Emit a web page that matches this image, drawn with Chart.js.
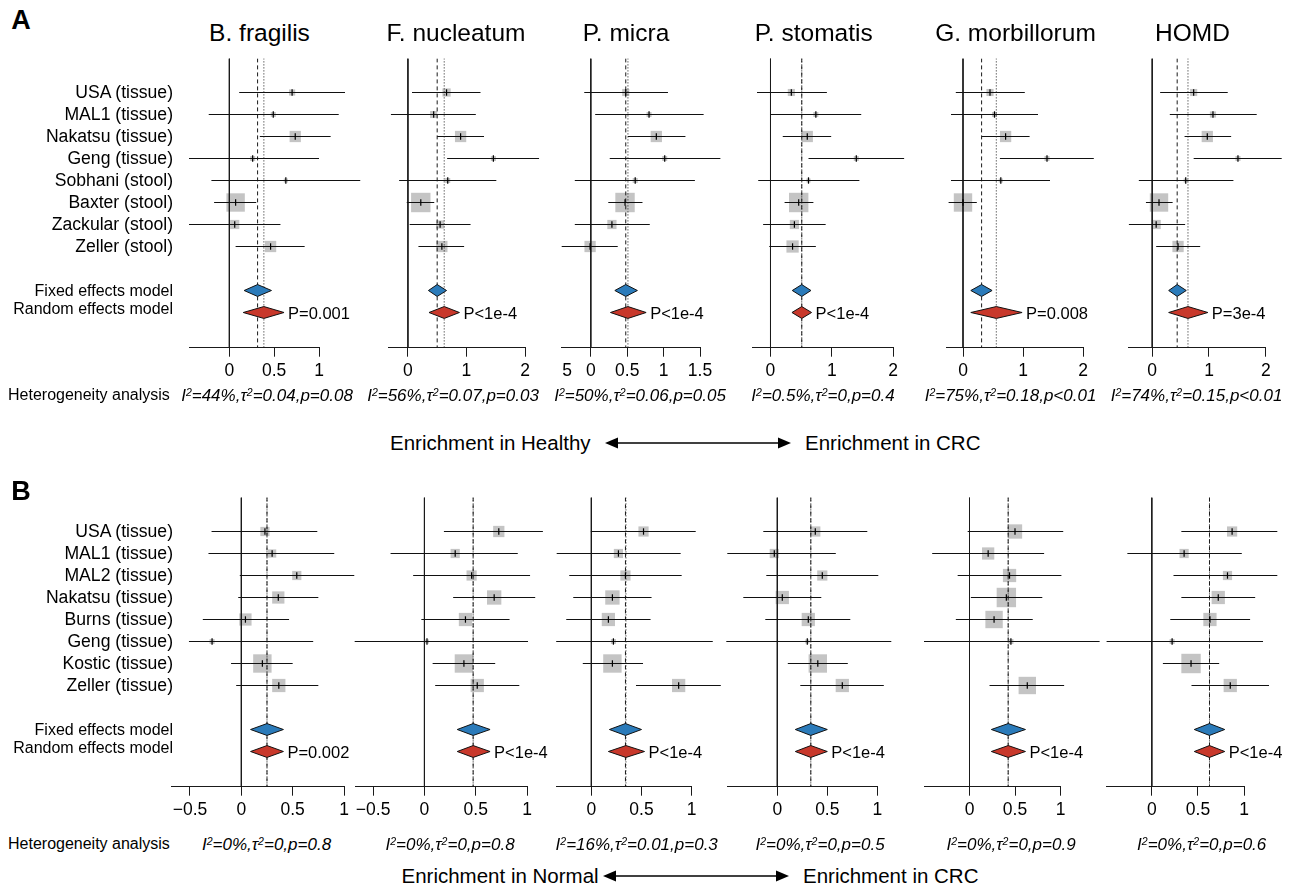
<!DOCTYPE html>
<html>
<head>
<meta charset="utf-8">
<title>Meta-analysis forest plots</title>
<script src="https://cdn.jsdelivr.net/npm/chart.js@4.4.0/dist/chart.umd.min.js"></script>
<style>
  html, body { margin: 0; padding: 0; background: #fff; }
  #page {
    position: relative; width: 1292px; height: 889px; overflow: hidden;
    font-family: "Liberation Sans", Arial, Helvetica, sans-serif; color: #000;
  }
  .t { position: absolute; white-space: nowrap; line-height: 1; }
  .t sup { font-size: 0.62em; vertical-align: baseline; position: relative; top: -0.5em; }
  canvas.panel { position: absolute; }
</style>
</head>
<body>
<div id="page"></div>
<script>
// -------------------------------------------------------------
// DATA
// -------------------------------------------------------------
const speciesTitles = ["B. fragilis", "F. nucleatum", "P. micra", "P. stomatis", "G. morbillorum", "HOMD"];

const studiesA = ["USA (tissue)", "MAL1 (tissue)", "Nakatsu (tissue)", "Geng (tissue)",
  "Sobhani (stool)", "Baxter (stool)", "Zackular (stool)", "Zeller (stool)"];
const studiesB = ["USA (tissue)", "MAL1 (tissue)", "MAL2 (tissue)", "Nakatsu (tissue)",
  "Burns (tissue)", "Geng (tissue)", "Kostic (tissue)", "Zeller (tissue)"];

// panel A — effect, CI lower, CI upper, study weight (%)
const a1Est = [0.70, 0.49, 0.735, 0.26, 0.63, 0.07, 0.06, 0.46];
const a1Lo  = [0.11, -0.23, 0.34, -0.45, -0.20, -0.17, -0.45, 0.07];
const a1Hi  = [1.29, 1.22, 1.13, 1.00, 1.46, 0.30, 0.57, 0.84];
const a1Wt  = [1.8, 1.2, 6.0, 1.2, 0.8, 16.0, 4.0, 6.0];

const a2Est = [0.66, 0.44, 0.90, 1.46, 0.68, 0.22, 0.55, 0.58];
const a2Lo  = [0.07, -0.29, 0.50, 0.67, -0.15, -0.02, 0.03, 0.18];
const a2Hi  = [1.24, 1.16, 1.30, 2.24, 1.51, 0.45, 1.07, 0.96];
const a2Wt  = [3.2, 2.4, 6.0, 1.2, 1.2, 17.8, 3.2, 6.0];

const a3Est = [0.48, 0.80, 0.90, 1.015, 0.61, 0.47, 0.29, -0.01];
const a3Lo  = [-0.09, 0.06, 0.51, 0.26, -0.22, 0.24, -0.22, -0.40];
const a3Hi  = [1.06, 1.55, 1.30, 1.78, 1.43, 0.71, 0.81, 0.37];
const a3Wt  = [2.4, 1.2, 6.0, 1.2, 1.2, 17.8, 4.0, 6.0];

const a4Est = [0.34, 0.74, 0.60, 1.40, 0.62, 0.46, 0.39, 0.36];
const a4Lo  = [-0.22, 0.00, 0.20, 0.62, -0.20, 0.23, -0.12, -0.02];
const a4Hi  = [0.92, 1.48, 0.99, 2.18, 1.45, 0.70, 0.90, 0.74];
const a4Wt  = [2.4, 1.2, 6.0, 1.2, 0.8, 17.8, 4.0, 7.1];

const a5Est = [0.45, 0.525, 0.71, 1.40, 0.63, 0.00, null, null];
const a5Lo  = [-0.12, -0.20, 0.315, 0.615, -0.20, -0.24, null, null];
const a5Hi  = [1.03, 1.25, 1.11, 2.18, 1.45, 0.23, null, null];
const a5Wt  = [2.4, 1.2, 6.0, 1.2, 0.8, 16.0, null, null];

const a6Est = [0.73, 1.07, 0.97, 1.51, 0.59, 0.12, 0.07, 0.455];
const a6Lo  = [0.14, 0.31, 0.57, 0.73, -0.235, -0.11, -0.41, 0.07];
const a6Hi  = [1.33, 1.84, 1.39, 2.28, 1.43, 0.36, 0.58, 0.845];
const a6Wt  = [2.4, 1.8, 6.0, 1.2, 0.8, 16.0, 4.0, 6.0];

// pooled estimates — [estimate, lower, upper]
const a1Fixed = [0.315, 0.165, 0.47];  const a1Random = [0.385, 0.155, 0.61];
const a2Fixed = [0.50, 0.35, 0.66];    const a2Random = [0.62, 0.36, 0.88];
const a3Fixed = [0.48, 0.33, 0.64];    const a3Random = [0.51, 0.27, 0.76];
const a4Fixed = [0.51, 0.355, 0.66];   const a4Random = [0.51, 0.35, 0.67];
const a5Fixed = [0.31, 0.13, 0.485];   const a5Random = [0.555, 0.13, 0.985];
const a6Fixed = [0.44, 0.29, 0.60];    const a6Random = [0.63, 0.29, 0.98];

// panel B
const b1Est = [0.23, 0.30, 0.54, 0.36, 0.04, -0.285, 0.205, 0.365];
const b1Lo  = [-0.29, -0.32, -0.015, -0.03, -0.375, -0.51, -0.10, -0.05];
const b1Hi  = [0.74, 0.905, 1.10, 0.75, 0.465, 0.70, 0.50, 0.75];
const b1Wt  = [4.0, 3.2, 4.0, 7.1, 7.1, 1.2, 16.0, 8.3];

const b2Est = [0.725, 0.30, 0.46, 0.68, 0.40, 0.025, 0.385, 0.515];
const b2Lo  = [0.19, -0.33, -0.11, 0.28, -0.03, -0.68, 0.08, 0.105];
const b2Hi  = [1.155, 0.91, 1.03, 1.08, 0.83, 1.01, 0.69, 0.925];
const b2Wt  = [6.0, 4.0, 4.9, 9.7, 8.3, 0.8, 16.0, 8.3];

const b3Est = [0.52, 0.27, 0.34, 0.21, 0.17, 0.22, 0.21, 0.87];
const b3Lo  = [-0.005, -0.345, -0.22, -0.18, -0.25, -0.35, -0.085, 0.445];
const b3Hi  = [1.04, 0.89, 0.90, 0.60, 0.59, 1.21, 0.515, 1.29];
const b3Wt  = [4.9, 4.0, 4.9, 9.7, 8.3, 1.2, 16.0, 8.3];

const b4Est = [0.38, -0.03, 0.45, 0.05, 0.31, 0.30, 0.405, 0.65];
const b4Lo  = [-0.14, -0.50, -0.11, -0.34, -0.12, -0.51, 0.105, 0.23];
const b4Hi  = [0.90, 0.585, 1.01, 0.44, 0.73, 1.14, 0.705, 1.065];
const b4Wt  = [4.9, 4.0, 4.9, 8.3, 8.3, 0.8, 16.0, 8.3];

const b5Est = [0.50, 0.205, 0.44, 0.405, 0.27, 0.455, null, 0.635];
const b5Lo  = [-0.02, -0.41, -0.13, 0.015, -0.15, -0.50, null, 0.22];
const b5Hi  = [1.03, 0.82, 1.01, 0.80, 0.695, 1.43, null, 1.04];
const b5Wt  = [9.7, 7.1, 8.3, 17.8, 14.3, 1.2, null, 14.3];

const b6Est = [0.87, 0.35, 0.82, 0.72, 0.63, 0.22, 0.425, 0.85];
const b6Lo  = [0.32, -0.265, 0.235, 0.32, 0.20, -0.49, 0.12, 0.43];
const b6Hi  = [1.36, 0.975, 1.36, 1.12, 1.065, 1.205, 0.73, 1.27];
const b6Wt  = [4.9, 4.0, 4.0, 8.3, 8.3, 1.2, 17.8, 8.3];

const b1Fixed = [0.25, 0.09, 0.41];    const b1Random = [0.25, 0.09, 0.41];
const b2Fixed = [0.475, 0.32, 0.64];   const b2Random = [0.475, 0.32, 0.64];
const b3Fixed = [0.34, 0.18, 0.50];    const b3Random = [0.345, 0.17, 0.53];
const b4Fixed = [0.335, 0.18, 0.50];   const b4Random = [0.335, 0.18, 0.50];
const b5Fixed = [0.425, 0.24, 0.615];  const b5Random = [0.425, 0.24, 0.615];
const b6Fixed = [0.625, 0.46, 0.79];   const b6Random = [0.625, 0.46, 0.79];

// tick labels, p-values, heterogeneity
const ticksA = [[0, 0.5, 1], [0, 1, 2], [0, 0.5, 1, 1.5], [0, 1, 2], [0, 1, 2], [0, 1, 2]];
const ticksB = [[-0.5, 0, 0.5, 1], [-0.5, 0, 0.5, 1], [0, 0.5, 1], [0, 0.5, 1], [0, 0.5, 1], [0, 0.5, 1]];

const pValuesA = ["P=0.001", "P<1e-4", "P<1e-4", "P<1e-4", "P=0.008", "P=3e-4"];
const pValuesB = ["P=0.002", "P<1e-4", "P<1e-4", "P<1e-4", "P<1e-4", "P<1e-4"];

const hetA = [
  ["44%", "0.04", "p=0.08"], ["56%", "0.07", "p=0.03"], ["50%", "0.06", "p=0.05"],
  ["0.5%", "0", "p=0.4"], ["75%", "0.18", "p<0.01"], ["74%", "0.15", "p<0.01"]
];
const hetB = [
  ["0%", "0", "p=0.8"], ["0%", "0", "p=0.8"], ["16%", "0.01", "p=0.3"],
  ["0%", "0", "p=0.5"], ["0%", "0", "p=0.9"], ["0%", "0", "p=0.6"]
];

// -------------------------------------------------------------
// LAYOUT (axis line extent in px and in data units)
// -------------------------------------------------------------
const frameA = [
  { px: [189, 319],      dom: [-0.45, 1] },
  { px: [388.3, 525],    dom: [-0.335, 2] },
  { px: [561.7, 700],    dom: [-0.40, 1.5] },
  { px: [752.1, 893.1],  dom: [-0.30, 2] },
  { px: [946.2, 1083],   dom: [-0.28, 2] },
  { px: [1128.9, 1265.8], dom: [-0.41, 2] }
];
const frameB = [
  { px: [171, 344],      dom: [-0.685, 1] },
  { px: [355.7, 527],    dom: [-0.67, 1] },
  { px: [556.7, 691.7],  dom: [-0.345, 1] },
  { px: [727.3, 877.3],  dom: [-0.5, 1] },
  { px: [924, 1060.5],   dom: [-0.5, 1] },
  { px: [1106.6, 1244.1], dom: [-0.49, 1] }
];
const titleX = [259.5, 456, 626, 813.7, 1015.5, 1192.5];
const hetXA = [267, 453, 640, 823, 1010.5, 1196.5];
const hetXB = [266.5, 450, 636.7, 820, 1011, 1201.7];

const ROW_PX = 22;
const Y_MIN = -0.55, Y_MAX = 12.6;
const FONT = `"Liberation Sans", Arial, Helvetica, sans-serif`;
const page = document.getElementById("page");

// -------------------------------------------------------------
// TEXT
// -------------------------------------------------------------
function text(html, x, y, { size = 16, align = "left", italic = false, bold = false } = {}) {
  const el = document.createElement("div");
  el.className = "t";
  el.innerHTML = html;
  const tx = align === "center" ? "-50%" : align === "right" ? "-100%" : "0";
  el.style.left = x + "px";
  el.style.top = y + "px";
  el.style.fontSize = size + "px";
  el.style.fontStyle = italic ? "italic" : "normal";
  el.style.fontWeight = bold ? "bold" : "normal";
  el.style.transform = `translate(${tx}, -50%)`;
  page.appendChild(el);
  return el;
}

function arrow(x0, x1, y) {
  const w = x1 - x0;
  const svg = `
    <svg width="${w}" height="14" style="position:absolute;left:${x0}px;top:${y - 7}px">
      <line x1="10" y1="7" x2="${w - 10}" y2="7" stroke="#000" stroke-width="1.5"/>
      <polygon points="0,7 13,1.5 13,12.5" fill="#000"/>
      <polygon points="${w},7 ${w - 13},1.5 ${w - 13},12.5" fill="#000"/>
    </svg>`;
  page.insertAdjacentHTML("beforeend", svg);
}

function fmtTick(v) {
  return v < 0 ? "\u2212" + Math.abs(v) : String(v);
}

// -------------------------------------------------------------
// DIAMONDS (pooled estimates)
// -------------------------------------------------------------
function diamondPlugin(items) {
  return {
    id: "diamonds",
    afterDatasetsDraw(chart) {
      const { ctx, scales: { x, y } } = chart;
      ctx.save();
      items.forEach(d => {
        const yc = y.getPixelForValue(d.row);
        const h = Math.abs(y.getPixelForValue(d.row + 0.27) - yc);
        ctx.beginPath();
        ctx.moveTo(x.getPixelForValue(d.v[1]), yc);
        ctx.lineTo(x.getPixelForValue(d.v[0]), yc - h);
        ctx.lineTo(x.getPixelForValue(d.v[2]), yc);
        ctx.lineTo(x.getPixelForValue(d.v[0]), yc + h);
        ctx.closePath();
        ctx.fillStyle = d.color;
        ctx.fill();
        ctx.lineWidth = 1;
        ctx.strokeStyle = "#111";
        ctx.stroke();
      });
      ctx.restore();
    }
  };
}

// -------------------------------------------------------------
// FOREST PANEL
// -------------------------------------------------------------
function forest({ frame, rowTop, ticks, est, lo, hi, wt, fixed, random, pLabel }) {
  const [x0, x1] = frame.px;
  const axisH = 42, padB = 2;
  const top = rowTop + (Y_MIN - 1) * ROW_PX;
  const bottom = rowTop + (Y_MAX - 1) * ROW_PX;
  // canvas sits on whole pixels, padding absorbs the fraction
  const left = Math.floor(x0 - 45);
  const canvasTop = Math.floor(top - 10);
  const padL = x0 - left, padT = top - canvasTop;
  const W = Math.ceil(x1 - left + 60);
  const padR = W - (x1 - left);
  const H = Math.ceil(bottom - canvasTop + axisH + padB);
  const padBottom = H - (bottom - canvasTop) - axisH;

  const canvas = document.createElement("canvas");
  canvas.className = "panel";
  canvas.width = W;
  canvas.height = H;
  canvas.style.width = W + "px";
  canvas.style.height = H + "px";
  canvas.style.left = left + "px";
  canvas.style.top = canvasTop + "px";
  page.appendChild(canvas);

  const rows = est
    .map((e, i) => ({ e, lo: lo[i], hi: hi[i], w: wt[i], y: i + 1 }))
    .filter(r => r.e !== null);

  const vline = (v, dash) => ({
    data: [{ x: v, y: Y_MIN }, { x: v, y: Y_MAX }],
    showLine: true, pointRadius: 0, borderColor: "#1a1a1a", borderWidth: 1,
    borderDash: dash, order: 4
  });

  const datasets = [
    vline(0, []),
    vline(fixed[0], [4, 3]),
    vline(random[0], [1, 2]),
    ...rows.map(r => ({
      data: [{ x: r.lo, y: r.y }, { x: r.hi, y: r.y }],
      showLine: true, pointRadius: 0, borderColor: "#111", borderWidth: 1,
      clip: false, order: 3
    })),
    {
      data: rows.map(r => ({ x: r.e, y: r.y })),
      pointStyle: "rect",
      pointRadius: rows.map(r => 4.6 * Math.sqrt(r.w) / Math.SQRT2),
      pointBackgroundColor: "#c4c4c4", pointBorderWidth: 0, clip: false, order: 5
    },
    {
      data: rows.map(r => ({ x: r.e, y: r.y })),
      pointStyle: "line", pointRotation: 90, pointRadius: 3.2,
      pointBorderColor: "#000", pointBorderWidth: 1.2, clip: false, order: 1
    }
  ];

  const chart = new Chart(canvas, {
    type: "scatter",
    data: { datasets },
    plugins: [diamondPlugin([
      { row: 10, v: fixed, color: "#2b7bba" },
      { row: 11, v: random, color: "#c8382b" }
    ])],
    options: {
      responsive: false,
      animation: false,
      events: [],
      layout: { padding: { left: padL, right: padR, top: padT, bottom: padBottom }, autoPadding: false },
      plugins: { legend: { display: false }, tooltip: { enabled: false } },
      scales: {
        x: {
          type: "linear",
          min: frame.dom[0],
          max: frame.dom[1],
          afterBuildTicks: s => { s.ticks = ticks.map(v => ({ value: v })); },
          afterFit: s => { s.height = axisH; },
          grid: { display: true, drawOnChartArea: false, drawTicks: true, tickLength: 9, color: "#1a1a1a" },
          border: { display: true, color: "#1a1a1a", width: 1 },
          ticks: {
            color: "#000", padding: 4, maxRotation: 0, autoSkip: false,
            font: { family: FONT, size: 17.5 },
            callback: v => fmtTick(v)
          }
        },
        y: { type: "linear", reverse: true, min: Y_MIN, max: Y_MAX, display: false }
      }
    }
  });

  // p-value next to the random-effects diamond tip
  const tipX = left + chart.scales.x.getPixelForValue(random[2]) + 4;
  text(pLabel, tipX, rowTop + 10 * ROW_PX, { size: 16.5 });
  return chart;
}

// -------------------------------------------------------------
// BUILD
// -------------------------------------------------------------
const panelsA = [
  [a1Est, a1Lo, a1Hi, a1Wt, a1Fixed, a1Random],
  [a2Est, a2Lo, a2Hi, a2Wt, a2Fixed, a2Random],
  [a3Est, a3Lo, a3Hi, a3Wt, a3Fixed, a3Random],
  [a4Est, a4Lo, a4Hi, a4Wt, a4Fixed, a4Random],
  [a5Est, a5Lo, a5Hi, a5Wt, a5Fixed, a5Random],
  [a6Est, a6Lo, a6Hi, a6Wt, a6Fixed, a6Random]
];
const panelsB = [
  [b1Est, b1Lo, b1Hi, b1Wt, b1Fixed, b1Random],
  [b2Est, b2Lo, b2Hi, b2Wt, b2Fixed, b2Random],
  [b3Est, b3Lo, b3Hi, b3Wt, b3Fixed, b3Random],
  [b4Est, b4Lo, b4Hi, b4Wt, b4Fixed, b4Random],
  [b5Est, b5Lo, b5Hi, b5Wt, b5Fixed, b5Random],
  [b6Est, b6Lo, b6Hi, b6Wt, b6Fixed, b6Random]
];

function section({ rowTop, studies, panels, frames, ticks, pValues, het, hetX, hetY }) {
  panels.forEach(([est, lo, hi, wt, fixed, random], i) => {
    forest({ frame: frames[i], rowTop, ticks: ticks[i], est, lo, hi, wt, fixed, random, pLabel: pValues[i] });
  });
  studies.forEach((s, i) => text(s, 173, rowTop + i * ROW_PX, { size: 17.6, align: "right" }));
  text("Fixed effects model", 173, rowTop + 9 * ROW_PX, { size: 16, align: "right" });
  text("Random effects model", 173, rowTop + 10 * ROW_PX - 3.5, { size: 16, align: "right" });
  text("Heterogeneity analysis", 8, hetY, { size: 16 });
  het.forEach(([i2, t2, p], i) => {
    text(`I<sup>2</sup>=${i2},\u03C4<sup>2</sup>=${t2},${p}`, hetX[i], hetY, { size: 17, align: "center", italic: true });
  });
}

section({
  rowTop: 92.5, studies: studiesA, panels: panelsA, frames: frameA, ticks: ticksA,
  pValues: pValuesA, het: hetA, hetX: hetXA, hetY: 395
});
section({
  rowTop: 531.5, studies: studiesB, panels: panelsB, frames: frameB, ticks: ticksB,
  pValues: pValuesB, het: hetB, hetX: hetXB, hetY: 844
});

speciesTitles.forEach((t, i) => text(t, titleX[i], 33, { size: 24.5, align: "center" }));
text("5", 567, 371, { size: 17.5, align: "center" });

text("A", 21, 20, { size: 27, align: "center", bold: true });
text("B", 21, 491, { size: 27, align: "center", bold: true });

text("Enrichment in Healthy", 390, 443, { size: 20.5 });
arrow(605, 791, 443);
text("Enrichment in CRC", 805, 443, { size: 20.5 });

text("Enrichment in Normal", 401.5, 876, { size: 20.5 });
arrow(603, 789, 876);
text("Enrichment in CRC", 803, 876, { size: 20.5 });
</script>
</body>
</html>
